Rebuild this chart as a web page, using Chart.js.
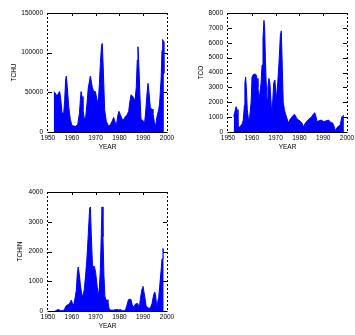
<!DOCTYPE html>
<html><head><meta charset="utf-8">
<script src="https://cdn.jsdelivr.net/npm/chart.js@4"></script>
<style>
html,body{margin:0;padding:0;background:#fff;width:355px;height:335px;overflow:hidden}
canvas{position:absolute}
</style></head><body>
<canvas id="c1" width="180" height="165" style="left:0px;top:0px;width:180px;height:165px"></canvas>
<canvas id="c2" width="180" height="165" style="left:175px;top:0px;width:180px;height:165px"></canvas>
<canvas id="c3" width="180" height="165" style="left:0px;top:179px;width:180px;height:165px"></canvas>
<script>
const yearTicks = [1950,1960,1970,1980,1990,2000];
const tchuTicks = [0,50000,100000,150000];
const tcoTicks = [0,1000,2000,3000,4000,5000,6000,7000,8000];
const tchinTicks = [0,1000,2000,3000,4000];

const years1 = [1952.4,1953.1,1953.8,1954.4,1954.9,1955.4,1955.9,1956.6,1957.0,1957.4,1957.7,1958.1,1958.7,1959.4,1960.1,1961.5,1962.5,1963.2,1963.6,1963.9,1964.3,1964.7,1965.3,1965.8,1966.4,1966.9,1967.8,1968.2,1968.6,1969.2,1969.9,1970.6,1971.0,1971.6,1972.0,1972.5,1972.8,1973.2,1973.8,1974.5,1975.5,1976.2,1976.9,1977.6,1978.3,1978.7,1979.4,1979.8,1980.4,1981.1,1981.8,1982.5,1983.2,1983.9,1984.3,1984.9,1985.4,1986.0,1986.6,1987.1,1987.5,1987.8,1988.2,1988.7,1989.1,1989.9,1990.6,1991.0,1991.5,1992.0,1992.4,1993.0,1993.7,1994.1,1994.7,1995.2,1995.8,1996.5,1996.9,1997.5,1997.9,1998.2,1998.5,1998.7];
const tchu = [51000,49000,44700,49000,51000,40500,23800,23800,40000,65600,70600,57000,32000,15500,8000,7100,9200,23800,40500,51000,44700,28000,16300,17500,36400,55000,70600,63500,56400,51000,51000,40500,30100,61400,86500,109500,111600,82300,28000,13400,7100,9200,13400,18400,11300,8000,21700,26000,21700,16300,15500,19600,21700,26000,36400,46800,45600,42600,40500,57000,90700,107400,82300,40500,15500,14600,12100,23800,44700,61400,51000,30100,28800,23800,12100,7100,19600,28000,36400,65600,103200,116600,113700,74000];

const years2 = [1952.4,1952.8,1953.4,1953.8,1954.2,1954.6,1955.3,1956.0,1956.4,1956.9,1957.1,1957.4,1957.7,1958.1,1958.7,1959.1,1959.7,1960.1,1960.6,1961.2,1961.8,1962.2,1962.6,1963.0,1963.4,1963.9,1964.3,1964.7,1965.1,1965.4,1965.7,1966.0,1966.4,1966.8,1967.2,1967.6,1968.2,1968.6,1969.2,1969.7,1970.3,1970.9,1971.4,1972.0,1972.4,1972.8,1973.2,1973.7,1974.2,1974.8,1975.4,1975.9,1976.6,1977.3,1977.9,1978.3,1978.9,1979.7,1980.5,1981.1,1981.7,1982.5,1983.6,1985.0,1985.9,1986.4,1986.8,1987.4,1988.2,1989.2,1990.2,1991.3,1992.3,1993.1,1994.0,1994.5,1995.1,1995.8,1996.6,1997.2,1997.8,1998.3,1998.7];
const tco = [1050,1300,1700,1500,500,300,400,550,800,1800,3300,3700,3000,1500,700,1000,2000,3700,3850,3900,3850,3600,3000,2200,2600,3300,4500,6300,7500,7000,5000,3500,2200,3000,3600,3300,1700,1500,3300,3500,2200,3300,4600,6500,6800,4500,2000,1500,1200,900,600,800,950,1100,1200,1100,900,800,700,600,350,600,800,1000,1200,1300,1150,700,750,800,700,750,800,650,600,400,100,300,400,500,1000,1100,1100];

const years3 = [1953.0,1953.5,1954.0,1954.6,1955.2,1956.0,1956.9,1957.4,1958.0,1958.7,1959.4,1959.8,1960.3,1960.8,1961.4,1961.9,1962.3,1962.7,1963.2,1963.6,1964.1,1964.6,1965.2,1965.8,1966.3,1966.8,1967.2,1967.5,1967.8,1968.2,1968.7,1969.5,1970.0,1970.7,1971.1,1971.6,1972.0,1972.4,1972.7,1973.1,1973.5,1973.9,1974.4,1974.8,1975.2,1975.6,1976.2,1977.6,1979.0,1979.7,1980.4,1981.1,1981.8,1982.5,1983.2,1983.8,1984.3,1984.9,1985.4,1986.0,1986.6,1987.1,1987.7,1988.1,1988.5,1988.9,1989.5,1989.9,1990.3,1990.8,1991.2,1991.7,1992.4,1993.0,1993.7,1994.4,1994.8,1995.2,1995.7,1996.1,1996.5,1996.9,1997.5,1997.9,1998.3,1998.6];
const tchin = [0,20,50,40,20,10,40,150,200,220,300,370,250,200,450,700,1250,1480,1200,900,600,480,700,1200,1700,2400,3000,3450,3500,2550,1500,1500,1300,800,480,800,1400,2600,3500,2500,1200,500,350,380,300,90,30,30,50,30,50,10,10,20,200,380,400,380,200,130,220,250,250,150,200,450,750,830,650,400,180,120,90,100,250,550,640,550,110,300,450,800,1350,1750,2100,2000];

Chart.defaults.font.family = "'Liberation Sans', Arial, sans-serif";
Chart.defaults.font.size = 6.5;
Chart.defaults.color = '#000';

const framePlugin = {
  id: 'frame',
  afterDatasetsDraw(chart) {
    const {ctx, chartArea: {left, right, top, bottom}, scales: {x, y}} = chart;
    ctx.save();
    ctx.strokeStyle = '#000';
    ctx.lineWidth = 1;
    ctx.beginPath();
    ctx.moveTo(left - 0.5, top + 0.5); ctx.lineTo(right + 0.5, top + 0.5);
    ctx.moveTo(left - 0.5, bottom + 0.5); ctx.lineTo(right + 0.5, bottom + 0.5);
    ctx.stroke();
    ctx.setLineDash([2, 2]);
    ctx.beginPath();
    ctx.moveTo(left - 0.5, top); ctx.lineTo(left - 0.5, bottom);
    ctx.moveTo(right + 0.5, top); ctx.lineTo(right + 0.5, bottom);
    ctx.stroke();
    ctx.setLineDash([]);
    ctx.beginPath();
    y.ticks.forEach(t => {
      if (t.value <= y.min || t.value >= y.max) return;
      const py = Math.round(y.getPixelForValue(t.value)) + 0.5;
      ctx.moveTo(left, py); ctx.lineTo(left + 4, py);
      ctx.moveTo(right, py); ctx.lineTo(right - 4, py);
    });
    x.ticks.forEach(t => {
      if (t.value <= x.min || t.value >= x.max) return;
      const px = Math.round(x.getPixelForValue(t.value)) + 0.5;
      ctx.moveTo(px, top); ctx.lineTo(px, top + 3);
    });
    ctx.stroke();
    ctx.restore();
  }
};

function makeChart(id, xs, vals, yTicks, yMax, yLabel, yAxisWidth, yTitlePad, rightPad) {
  const pts = xs.map((v, i) => ({x: v, y: vals[i]}));
  return new Chart(document.getElementById(id), {
    type: 'line',
    data: {datasets: [{
      data: pts,
      fill: 'origin',
      backgroundColor: '#0000ff',
      borderColor: '#0000ff',
      borderWidth: 1,
      pointRadius: 0,
      tension: 0
    }]},
    options: {
      responsive: false,
      devicePixelRatio: 1,
      animation: false,
      events: [],
      layout: {padding: {top: 13, right: rightPad, left: 0, bottom: 0}},
      plugins: {legend: {display: false}, tooltip: {enabled: false}},
      scales: {
        x: {
          type: 'linear', min: 1950, max: 2000,
          grid: {display: false, drawTicks: false}, border: {display: false},
          afterBuildTicks: s => { s.ticks = yearTicks.map(v => ({value: v})); },
          ticks: {padding: 2, maxRotation: 0, autoSkip: false, callback: v => String(v)},
          title: {display: true, text: 'YEAR', padding: {top: 0, bottom: 14}},
          afterFit: s => { s.height = 33; s.paddingLeft = 0; s.paddingRight = 0; }
        },
        y: {
          min: 0, max: yMax,
          grid: {display: false, drawTicks: false}, border: {display: false},
          afterBuildTicks: s => { s.ticks = yTicks.map(v => ({value: v})); },
          ticks: {padding: 5, autoSkip: false, callback: v => String(v)},
          title: {display: true, text: yLabel, padding: {top: yTitlePad, bottom: 0}},
          afterFit: s => { s.width = yAxisWidth; s.paddingTop = 0; s.paddingBottom = 0; }
        }
      }
    },
    plugins: [framePlugin]
  });
}

makeChart('c1', years1, tchu, tchuTicks, 150000, 'TCHU', 48, 10.6, 13);
makeChart('c2', years2, tco, tcoTicks, 8000, 'TCO', 53, 22.8, 8);
makeChart('c3', years3, tchin, tchinTicks, 4000, 'TCHIN', 48, 16.8, 13);
</script>
</body></html>
